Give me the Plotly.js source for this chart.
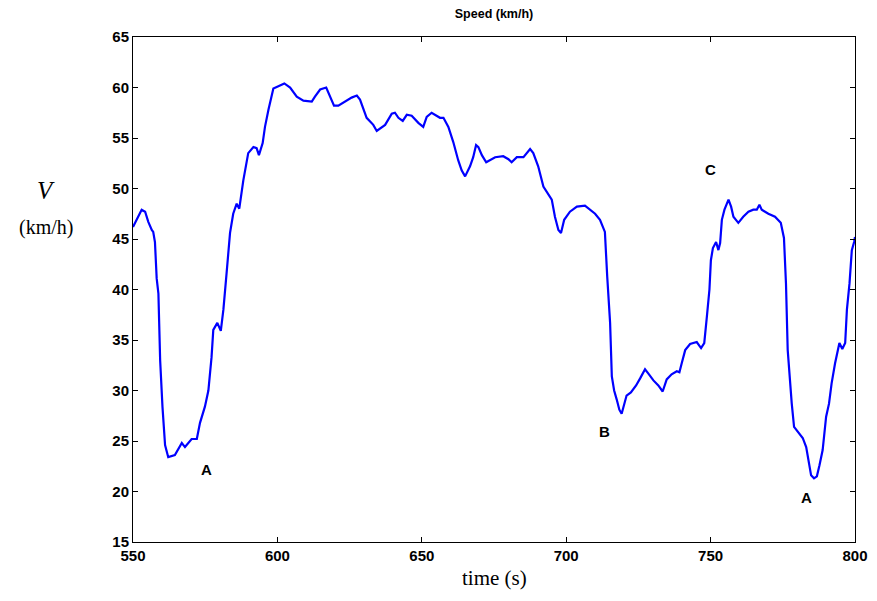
<!DOCTYPE html>
<html>
<head>
<meta charset="utf-8">
<script src="https://cdn.plot.ly/plotly-3.0.1.min.js"></script>
<style>html,body{margin:0;padding:0;background:#fff;}#chart{width:877px;height:601px;}</style>
</head>
<body>
<div id="chart"></div>
<script>
// time (s)
const timeS = [550,551.3,553,554.2,555.3,556.5,557,557.6,558.2,558.8,559.4,560.2,561.1,562.2,564.5,566.9,568,570.3,572.1,573.2,574.9,576.1,577.2,577.8,579.2,580.4,581.3,582.4,583.6,584.7,585.9,586.8,588.2,589.9,591.7,592.8,593.6,594.9,595.7,596.9,598,598.6,600.9,602.4,604.4,606.7,609,611.9,613,614.8,616.9,618.2,619.6,621.1,623.4,625.7,627.5,628.6,630.9,633.2,634.4,637.3,639.6,640.7,641.9,643.4,644.8,646.5,648.8,650.5,651.7,653.4,656.3,657.5,659.2,660.9,662.6,663.8,665,666.7,667.8,668.8,669.6,670.8,672.3,673.6,675.4,678.2,680,681.1,682.9,685.2,686.3,687.5,688.6,690.3,692.1,693.8,695,696.1,697.3,698.2,699.3,701.3,703.7,706.5,708.3,710,711.7,712.6,713.4,714.2,715.2,715.8,716.6,717.5,718.4,719.2,720.1,720.9,722.4,724.2,725.6,727.3,728.4,730.2,731.9,733.4,734.8,736.5,738.3,739.2,740,741.2,742.9,745.2,746.7,747.8,748.7,749.6,750.1,750.8,751.9,752.7,753.3,753.9,754.8,756.2,757.1,757.9,759.6,761.3,763.1,764.8,766,766.9,767.7,770,772.3,774.3,775.4,776.1,776.7,777.5,778.1,778.9,780.4,781.9,783.1,783.9,784.8,785.8,786.8,787.7,788.8,790,791,791.9,793.1,794.6,795.6,796.6,797.2,798.1,798.9,799.7,800];
// speed (km/h)
const speedKmh = [46.2,46.9,47.9,47.7,46.7,45.9,45.7,44.7,41.1,39.6,33.0,28.4,24.6,23.4,23.6,24.8,24.4,25.2,25.2,26.8,28.4,30.0,33.3,36.0,36.7,35.9,38.0,41.6,45.6,47.5,48.5,48.0,50.8,53.5,54.1,54.0,53.3,54.5,56.1,57.8,59.3,59.9,60.2,60.4,60.0,59.1,58.7,58.6,59.1,59.8,60.0,59.1,58.2,58.2,58.6,59.0,59.2,58.8,57.0,56.3,55.7,56.3,57.4,57.5,57.0,56.7,57.3,57.2,56.5,56.1,57.1,57.5,57.0,57.0,56.1,54.6,52.8,51.8,51.2,52.2,53.1,54.3,54.1,53.3,52.6,52.8,53.1,53.2,52.9,52.6,53.1,53.1,53.5,53.9,53.5,52.2,50.2,49.4,48.9,47.2,45.9,45.6,46.9,47.7,48.2,48.3,47.9,47.5,46.9,46.2,45.7,41.3,36.7,31.4,30.0,29.1,28.1,27.7,28.7,29.5,29.8,30.5,31.2,32.1,31.7,31.0,30.5,29.9,31.1,31.6,31.9,31.8,32.7,34.0,34.6,34.8,34.2,34.7,37.3,40.0,42.9,44.1,44.7,43.9,44.6,46.9,47.9,48.9,48.2,47.2,46.6,47.2,47.7,47.9,47.9,48.4,47.9,47.5,47.2,46.6,45.1,40.6,34.0,30.7,28.7,26.4,25.9,25.3,24.4,23.1,21.6,21.3,21.5,22.6,24.1,27.4,28.7,30.7,32.7,34.7,34.1,34.7,38.0,40.6,43.9,44.7,45.2];
const xTicks = [550,600,650,700,750,800];
const yTicks = [15,20,25,30,35,40,45,50,55,60,65];

const sans = 'Arial, "Liberation Sans", sans-serif';
const serif = '"Times New Roman", "Liberation Serif", serif';

const trace = {
  x: timeS, y: speedKmh, type: 'scatter', mode: 'lines',
  line: {color: '#0000ff', width: 2.2}, hoverinfo: 'skip'
};

const axisCommon = {
  showgrid: false, zeroline: false, showline: true, mirror: 'ticks',
  linecolor: '#000', linewidth: 1, ticks: 'inside', ticklen: 5, tickwidth: 1,
  tickcolor: '#000', tickfont: {family: sans, size: 15, color: '#000', weight: 'bold'}
};

const letterFont = {family: sans, size: 15, color: '#000', weight: 'bold'};

const layout = {
  width: 877, height: 601,
  margin: {l: 133, r: 22, t: 37, b: 59},
  paper_bgcolor: '#fff', plot_bgcolor: '#fff',
  showlegend: false,
  title: {text: 'Speed (km/h)', x: 0.5633, xanchor: 'center', y: 0.977, yanchor: 'middle',
          font: {family: sans, size: 12.5, color: '#000', weight: 'bold'}},
  xaxis: Object.assign({}, axisCommon, {range: [550, 800], tickvals: xTicks, ticktext: xTicks.map(String)}),
  yaxis: Object.assign({}, axisCommon, {range: [15, 65], tickvals: yTicks, ticktext: yTicks.map(String)}),
  annotations: [
    {text: '<i>V</i>', xref: 'paper', yref: 'paper', x: -0.1205, y: 0.697, xanchor: 'center', yanchor: 'middle',
     showarrow: false, font: {family: serif, size: 25, color: '#000'}},
    {text: '(km/h)', xref: 'paper', yref: 'paper', x: -0.1205, y: 0.622, xanchor: 'center', yanchor: 'middle',
     showarrow: false, font: {family: serif, size: 20, color: '#000'}},
    {text: 'time (s)', xref: 'paper', yref: 'paper', x: 0.5, y: -0.0713, xanchor: 'center', yanchor: 'middle',
     showarrow: false, font: {family: serif, size: 21, color: '#000'}},
    {text: 'A', x: 575.3, y: 22.2, showarrow: false, font: letterFont},
    {text: 'B', x: 713.4, y: 25.9, showarrow: false, font: letterFont},
    {text: 'C', x: 749.8, y: 51.9, showarrow: false, font: letterFont},
    {text: 'A', x: 783.1, y: 19.4, showarrow: false, font: letterFont}
  ]
};

Plotly.newPlot('chart', [trace], layout, {displayModeBar: false, staticPlot: true});
</script>
</body>
</html>
